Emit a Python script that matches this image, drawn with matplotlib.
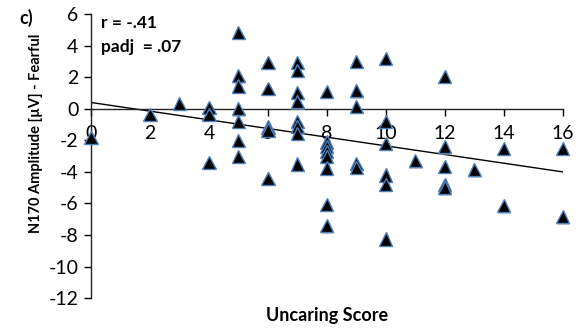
import numpy as np
import matplotlib.pyplot as plt
import matplotlib.patheffects as pe

plt.rcParams['font.family'] = ['Lato', 'DejaVu Sans']
plt.rcParams['axes.unicode_minus'] = False

# uncaring score and N170 amplitude (fearful faces) per participant
uncaring = [0, 2, 3,
            4, 4, 4,
            5, 5, 5, 5, 5, 5, 5,
            6, 6, 6, 6, 6,
            7, 7, 7, 7, 7, 7, 7, 7,
            8, 8, 8, 8, 8, 8, 8, 8,
            9, 9, 9, 9, 9,
            10, 10, 10, 10, 10, 10,
            11,
            12, 12, 12, 12, 12,
            13, 14, 14, 16, 16]
n170 = [-1.8, -0.35, 0.35,
        0.1, -0.35, -3.4,
        4.85, 2.1, 1.45, 0.0, -0.8, -2.0, -3.0,
        2.95, 1.3, -1.15, -1.35, -4.4,
        2.95, 2.45, 1.05, 0.45, -0.8, -1.1, -1.55, -3.5,
        1.1, -2.1, -2.4, -2.7, -3.0, -3.75, -6.05, -7.4,
        3.0, 1.15, 0.15, -3.45, -3.7,
        3.2, -0.8, -2.2, -4.2, -4.8, -8.25,
        -3.3,
        2.05, -2.4, -3.65, -4.8, -5.0,
        -3.85, -2.5, -6.15, -2.5, -6.85]

# least-squares trend line reported with r = -.41
trend_intercept = 0.4
trend_slope = -0.275

fig = plt.figure(figsize=(5.76, 3.29), dpi=100)
ax = fig.add_axes([0.158, 0.094, 0.819, 0.863])

xs = np.array([0, 16])
ax.plot(xs, trend_intercept + trend_slope * xs, color='black', lw=1.0, zorder=2)

ax.plot(uncaring, n170, linestyle='none', marker='^', markersize=9.5,
        markerfacecolor='black', markeredgecolor='#4f81bd', markeredgewidth=1.0,
        clip_on=False, zorder=3,
        path_effects=[pe.SimplePatchShadow(offset=(0.5, -1), shadow_rgbFace='#9aa6b8', alpha=0.6),
                      pe.Normal()])

ax.set_xlim(0, 16)
ax.set_ylim(-12, 6)
ax.set_xticks(np.arange(0, 17, 2))
ax.set_yticks(np.arange(-12, 7, 2))

ax.spines['top'].set_visible(False)
ax.spines['right'].set_visible(False)
ax.spines['bottom'].set_position(('data', 0))
for s in ('left', 'bottom'):
    ax.spines[s].set_linewidth(1.0)
    ax.spines[s].set_color('#222222')

ax.tick_params(axis='x', direction='out', length=5, width=1, pad=7, labelsize=14)
ax.tick_params(axis='y', direction='out', length=5, width=1, pad=4, labelsize=14)

fig.text(0.568, 0.04, 'Uncaring Score', ha='center', va='center',
         fontsize=13, fontweight='bold')
fig.text(0.062, 0.595, 'N170 Amplitude [µV] - Fearful', rotation=90,
         ha='center', va='center', fontsize=10.5, fontweight='bold')

fig.text(0.033, 0.945, 'c)', fontsize=13, fontweight='bold', va='center')
ax.text(0.022, 0.97, 'r = -.41', transform=ax.transAxes,
        fontsize=12.5, fontweight='bold', va='center')
ax.text(0.022, 0.885, 'padj  = .07', transform=ax.transAxes,
        fontsize=12.5, fontweight='bold', va='center')

fig.savefig('out.png', dpi=100)
